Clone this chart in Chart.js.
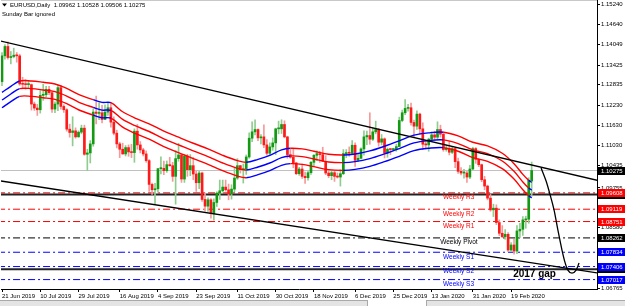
<!DOCTYPE html>
<html>
<head>
<meta charset="utf-8">
<script src="https://cdn.jsdelivr.net/npm/chart.js@4.4.1/dist/chart.umd.min.js"></script>
<style>
  html, body { margin: 0; padding: 0; background: #fff; }
  #wrap { position: relative; width: 625px; height: 300px; }
  #strip { position: relative; width: 625px; height: 6px; background: #e4e4e4; border-top: 1px solid #a9a9a9; box-sizing: border-box; }
  #tab { position: absolute; left: 367px; top: -1px; width: 58px; height: 6px; background: #fff; border-left: 1px solid #a9a9a9; border-right: 1px solid #a9a9a9; }
</style>
</head>
<body>
<div id="wrap"><canvas id="eurusd" width="625" height="300"></canvas></div>
<div id="strip"><div id="tab"></div></div>
<script>
// EURUSD daily, 21 Jun 2019 .. 28 Feb 2020 (bar index 0..180)
var opens = [
  1.1293,1.1370,1.1398,1.1365,1.1368,1.1372,1.1370,1.1286,1.1285,1.1284,
  1.1284,1.1226,1.1214,1.1209,1.1252,1.1254,1.1270,1.1260,1.1211,1.1226,
  1.1275,1.1219,1.1209,1.1151,1.1141,1.1146,1.1128,1.1142,1.1154,1.1076,
  1.1080,1.1107,1.1202,1.1198,1.1200,1.1180,1.1202,1.1215,1.1172,1.1139,
  1.1107,1.1091,1.1077,1.1096,1.1083,1.1081,1.1145,1.1104,1.1089,1.1077,
  1.1057,1.0986,1.0970,1.0973,1.1033,1.1034,1.1027,1.1045,1.1042,1.1010,
  1.1063,1.1074,1.1002,1.1071,1.1030,1.1042,1.1017,1.0991,1.1020,1.0941,
  1.0921,1.0940,1.0899,1.0932,1.0960,1.0967,1.0978,1.0970,1.0957,1.0972,
  1.1005,1.1042,1.1030,1.1033,1.1068,1.1124,1.1143,1.1150,1.1125,1.1128,
  1.1104,1.1079,1.1098,1.1110,1.1152,1.1152,1.1165,1.1128,1.1075,1.1067,
  1.1050,1.1018,1.1032,1.1010,1.1006,1.1021,1.1052,1.1073,1.1078,1.1075,
  1.1055,1.1020,1.1012,1.1021,1.1010,1.1008,1.1018,1.1078,1.1081,1.1079,
  1.1103,1.1058,1.1064,1.1092,1.1128,1.1132,1.1121,1.1143,1.1150,1.1112,
  1.1122,1.1080,1.1091,1.1090,1.1091,1.1099,1.1177,1.1200,1.1213,1.1215,
  1.1171,1.1160,1.1196,1.1152,1.1106,1.1104,1.1121,1.1134,1.1127,1.1150,
  1.1136,1.1090,1.1094,1.1082,1.1093,1.1054,1.1025,1.1020,1.1020,1.1008,
  1.1032,1.1093,1.1061,1.1045,1.1000,1.0981,1.0945,1.0910,1.0915,1.0872,
  1.0840,1.0830,1.0837,1.0790,1.0805,1.0787,1.0847,1.0852,1.0880,1.0882,
  1.09962
];
var highs = [
  1.1380,1.1404,1.1412,1.1383,1.1393,1.1380,1.1375,1.1306,1.1299,1.1295,
  1.1286,1.1232,1.1225,1.1266,1.1285,1.1279,1.1279,1.1264,1.1233,1.1283,
  1.1282,1.1224,1.1212,1.1166,1.1188,1.1155,1.1146,1.1163,1.1163,1.1091,
  1.1117,1.1212,1.1250,1.1230,1.1222,1.1224,1.1230,1.1229,1.1188,1.1148,
  1.1112,1.1109,1.1102,1.1104,1.1106,1.1152,1.1165,1.1114,1.1094,1.1086,
  1.1060,1.0990,1.0989,1.1034,1.1068,1.1056,1.1056,1.1067,1.1052,1.1087,
  1.1109,1.1076,1.1075,1.1076,1.1075,1.1067,1.1025,1.1025,1.1023,1.0960,
  1.0946,1.0944,1.0943,1.0964,1.0999,1.0999,1.0999,1.0987,1.0985,1.1034,
  1.1063,1.1043,1.1047,1.1074,1.1140,1.1173,1.1179,1.1152,1.1135,1.1164,
  1.1120,1.1110,1.1125,1.1154,1.1175,1.1179,1.1176,1.1130,1.1092,1.1093,
  1.1052,1.1037,1.1047,1.1023,1.1025,1.1055,1.1075,1.1086,1.1085,1.1097,
  1.1072,1.1029,1.1028,1.1027,1.1020,1.1030,1.1090,1.1090,1.1098,1.1117,
  1.1110,1.1077,1.1095,1.1146,1.1145,1.1200,1.1155,1.1175,1.1153,1.1135,
  1.1125,1.1095,1.1093,1.1094,1.1106,1.1187,1.1208,1.1239,1.1225,1.1229,
  1.1178,1.1206,1.1199,1.1170,1.1116,1.1124,1.1143,1.1145,1.1173,1.1163,
  1.1143,1.1103,1.1115,1.1098,1.1095,1.1065,1.1036,1.1031,1.1025,1.1043,
  1.1097,1.1096,1.1063,1.1047,1.1010,1.0984,1.0956,1.0927,1.0925,1.0880,
  1.0863,1.0851,1.0842,1.0812,1.0822,1.0863,1.0870,1.0890,1.0891,1.1006,
  1.10528
];
var lows = [
  1.1281,1.1360,1.1360,1.1346,1.1364,1.1351,1.1282,1.1275,1.1270,1.1272,
  1.1208,1.1207,1.1192,1.1199,1.1237,1.1247,1.1254,1.1201,1.1200,1.1206,
  1.1211,1.1201,1.1145,1.1127,1.1101,1.1124,1.1127,1.1137,1.1073,1.1027,
  1.1050,1.1100,1.1167,1.1179,1.1170,1.1180,1.1192,1.1157,1.1134,1.1095,
  1.1066,1.1076,1.1071,1.1070,1.1066,1.1052,1.1091,1.1080,1.1071,1.1052,
  1.0965,1.0956,1.0926,1.0963,1.1017,1.1015,1.1022,1.1040,1.0995,1.0927,
  1.1055,1.0992,1.0992,1.1010,1.1012,1.1000,1.0965,1.0973,1.0935,1.0906,
  1.0905,1.0885,1.0879,1.0920,1.0941,1.0963,1.0966,1.0940,1.0942,1.0964,
  1.1001,1.1020,1.0990,1.1016,1.1064,1.1114,1.1134,1.1117,1.1107,1.1096,
  1.1073,1.1072,1.1088,1.1075,1.1137,1.1138,1.1125,1.1064,1.1064,1.1036,
  1.1015,1.1013,1.1004,1.0989,1.0999,1.1016,1.1040,1.1058,1.1052,1.1055,
  1.1015,1.1006,1.1000,1.0995,1.1005,1.0981,1.1015,1.1066,1.1070,1.1075,
  1.1040,1.1055,1.1062,1.1073,1.1105,1.1106,1.1117,1.1137,1.1100,1.1104,
  1.1065,1.1067,1.1075,1.1086,1.1085,1.1099,1.1173,1.1194,1.1205,1.1163,
  1.1126,1.1150,1.1135,1.1090,1.1092,1.1085,1.1116,1.1118,1.1121,1.1127,
  1.1085,1.1085,1.1074,1.1078,1.1036,1.1019,1.1014,1.1005,1.0992,1.1003,
  1.1030,1.1049,1.1039,1.0994,1.0970,1.0940,1.0906,1.0890,1.0866,1.0833,
  1.0827,1.0822,1.0785,1.0786,1.0778,1.0779,1.0828,1.0834,1.0855,1.0870,
  1.09506
];
var closes = [
  1.1370,1.1398,1.1365,1.1368,1.1372,1.1370,1.1286,1.1285,1.1284,1.1284,
  1.1226,1.1214,1.1209,1.1252,1.1254,1.1270,1.1260,1.1211,1.1226,1.1275,
  1.1219,1.1209,1.1151,1.1141,1.1146,1.1128,1.1142,1.1154,1.1076,1.1080,
  1.1107,1.1202,1.1198,1.1200,1.1180,1.1202,1.1215,1.1172,1.1139,1.1107,
  1.1091,1.1077,1.1096,1.1083,1.1081,1.1145,1.1104,1.1089,1.1077,1.1057,
  1.0986,1.0970,1.0973,1.1033,1.1034,1.1027,1.1045,1.1042,1.1010,1.1063,
  1.1074,1.1002,1.1071,1.1030,1.1042,1.1017,1.0991,1.1020,1.0941,1.0921,
  1.0940,1.0899,1.0932,1.0960,1.0967,1.0978,1.0970,1.0957,1.0972,1.1005,
  1.1042,1.1030,1.1033,1.1068,1.1124,1.1143,1.1150,1.1125,1.1128,1.1104,
  1.1079,1.1098,1.1110,1.1152,1.1152,1.1165,1.1128,1.1075,1.1067,1.1050,
  1.1018,1.1032,1.1010,1.1006,1.1021,1.1052,1.1073,1.1078,1.1075,1.1055,
  1.1020,1.1012,1.1021,1.1010,1.1008,1.1018,1.1078,1.1081,1.1079,1.1103,
  1.1058,1.1064,1.1092,1.1128,1.1132,1.1121,1.1143,1.1150,1.1112,1.1122,
  1.1080,1.1091,1.1090,1.1091,1.1099,1.1177,1.1200,1.1213,1.1215,1.1171,
  1.1160,1.1196,1.1152,1.1106,1.1104,1.1121,1.1134,1.1127,1.1150,1.1136,
  1.1090,1.1094,1.1082,1.1093,1.1054,1.1025,1.1020,1.1020,1.1008,1.1032,
  1.1093,1.1061,1.1045,1.1000,1.0981,1.0945,1.0910,1.0915,1.0872,1.0840,
  1.0830,1.0837,1.0790,1.0805,1.0787,1.0847,1.0852,1.0880,1.0882,1.0998,
  1.10275
];

// date labels on the time axis (bar index -> text)
var tickIdx = [0, 13, 26, 40, 53, 66, 80, 93, 106, 120, 133, 146, 160, 173];
var tickLabels = ['21 Jun 2019', '10 Jul 2019', '29 Jul 2019', '16 Aug 2019', '4 Sep 2019', '23 Sep 2019',
  '11 Oct 2019', '30 Oct 2019', '18 Nov 2019', '6 Dec 2019', '25 Dec 2019', '13 Jan 2020', '31 Jan 2020', '19 Feb 2020'];

// price scale labels
var priceTicks = [1.15240, 1.14640, 1.14049, 1.13425, 1.12835, 1.12230, 1.11630, 1.11030, 1.10435, 1.09755, 1.08580, 1.06765];

// three band lines, read at these bars
var bandIdx = [0,3,6,10,14,18,22,26,31,34,37,41,45,50,55,60,65,70,75,80,83,87,91,95,98,102,106,111,116,120,125,130,135,140,145,150,155,160,165,170,174,177,179,180];
var bandUpper = [1.1261,1.1279,1.1295,1.1295,1.1291,1.1286,1.1273,1.1255,1.1239,1.1231,1.1230,1.1203,1.1185,1.1167,1.1145,1.1127,1.1109,1.1092,1.1073,1.1057,1.1052,1.1061,1.1073,1.1089,1.1094,1.1092,1.1085,1.1076,1.1074,1.1077,1.1086,1.1100,1.1116,1.1133,1.1140,1.1142,1.1131,1.1112,1.1101,1.1079,1.1048,1.1016,1.0998,1.0992];
var bandMid = [1.1238,1.1256,1.1272,1.1272,1.1268,1.1263,1.1250,1.1232,1.1216,1.1208,1.1207,1.1180,1.1162,1.1144,1.1122,1.1104,1.1086,1.1069,1.1050,1.1034,1.1029,1.1038,1.1050,1.1066,1.1071,1.1069,1.1062,1.1053,1.1051,1.1054,1.1063,1.1077,1.1093,1.1110,1.1117,1.1119,1.1108,1.1089,1.1078,1.1056,1.1025,1.0993,1.0975,1.0969];
var bandLower = [1.1215,1.1233,1.1249,1.1249,1.1245,1.1240,1.1227,1.1209,1.1193,1.1185,1.1184,1.1157,1.1139,1.1121,1.1099,1.1081,1.1063,1.1046,1.1027,1.1011,1.1006,1.1015,1.1027,1.1043,1.1048,1.1046,1.1039,1.1030,1.1028,1.1031,1.1040,1.1054,1.1070,1.1087,1.1094,1.1096,1.1085,1.1066,1.1055,1.1033,1.1002,1.0970,1.0952,1.0946];
// bar ranges where the bands are drawn blue
var blueSpans = [[0, 6], [31, 37], [83, 98], [116, 150], [179, 180]];

// weekly pivots
var levelNames = ['Weekly R3', 'Weekly R2', 'Weekly R1', 'Weekly Pivot', 'Weekly S1', 'Weekly S2', 'Weekly S3'];
var levelPrices = [1.09608, 1.09119, 1.08751, 1.08262, 1.07834, 1.07406, 1.07017];
var levelColors = ['#ff0000', '#ff0000', '#ff0000', '#000000', '#0000ff', '#0000ff', '#0000ff'];
var levelLabelX = [149.9, 149.9, 149.9, 148.9, 149.9, 149.9, 149.9];

// horizontal lines and last price
var hLines = [1.09555, 1.07328];
var lastPrice = 1.10275;
var gapLabelX = 173.7;

// channel lines (bar index, price)
var upperTrendX = [-0.4, 202.3];
var upperTrendY = [1.14143, 1.09983];
var lowerTrendX = [-0.4, 202.3];
var lowerTrendY = [1.09962, 1.07217];

// hand drawn path towards the gap
var pathX = [183.2, 184.9, 186.2, 187.6, 188.9, 190.3, 191.3, 192.3, 193.7, 195.1, 196.1];
var pathY = [1.1035, 1.0996, 1.0957, 1.0910, 1.0850, 1.0790, 1.0754, 1.0730, 1.0721, 1.0730, 1.0751];

var xMin = -0.34, xMax = 202.2;
var yMin = 1.06736, yMax = 1.15368;

var RED = '#ff0000', BLUE = '#0000ff';
var FONT = '"Liberation Sans", Arial, sans-serif';

function isBull(i) { return closes[i] >= opens[i]; }
function inBlue(a, b) {
    return blueSpans.some(function (s) { return a >= s[0] && b <= s[1]; });
}
function flatLine(v) { return [{ x: xMin - 1, y: v }, { x: xMax + 1, y: v }]; }

var datasets = [];

// hand drawn curve
datasets.push({
    type: 'line', order: 1,
    data: pathX.map(function (x, k) { return { x: x, y: pathY[k] }; }),
    borderColor: '#000', borderWidth: 1.3, pointRadius: 0, cubicInterpolationMode: 'monotone'
});
// channel
datasets.push({
    type: 'line', order: 2,
    data: upperTrendX.map(function (x, k) { return { x: x, y: upperTrendY[k] }; }),
    borderColor: '#000', borderWidth: 1.3, pointRadius: 0
});
datasets.push({
    type: 'line', order: 2,
    data: lowerTrendX.map(function (x, k) { return { x: x, y: lowerTrendY[k] }; }),
    borderColor: '#000', borderWidth: 1.3, pointRadius: 0
});
// bands
[bandUpper, bandMid, bandLower].forEach(function (arr) {
    datasets.push({
        type: 'line', order: 4,
        data: bandIdx.map(function (x, k) { return { x: x, y: arr[k] }; }),
        borderColor: RED, borderWidth: 1.4, pointRadius: 0, tension: 0.35,
        segment: {
            borderColor: function (ctx) { return inBlue(ctx.p0.parsed.x, ctx.p1.parsed.x) ? BLUE : RED; }
        }
    });
});
// candles
datasets.push({
    type: 'bar', order: 6, grouped: false,
    data: opens.map(function (o, i) { return { x: i, y: [o, closes[i]] }; }),
    backgroundColor: function (ctx) { return isBull(ctx.dataIndex) ? '#139a13' : '#ff1a1a'; },
    barThickness: 2, minBarLength: 1, borderWidth: 0
});
datasets.push({
    type: 'bar', order: 7, grouped: false,
    data: lows.map(function (l, i) { return { x: i, y: [l, highs[i]] }; }),
    backgroundColor: function (ctx) { return isBull(ctx.dataIndex) ? '#8fcd8f' : '#f59a9a'; },
    barThickness: 1, borderWidth: 0
});
// levels
levelPrices.forEach(function (v, k) {
    datasets.push({
        type: 'line', order: 9, data: flatLine(v),
        borderColor: levelColors[k], borderWidth: 1, borderDash: [7, 3, 2, 3], pointRadius: 0
    });
});
hLines.forEach(function (v) {
    datasets.push({
        type: 'line', order: 8, data: flatLine(v),
        borderColor: '#222', borderWidth: 2, pointRadius: 0
    });
});
datasets.push({
    type: 'line', order: 10, data: flatLine(lastPrice),
    borderColor: '#c0c0c0', borderWidth: 1, pointRadius: 0
});

var overlay = {
    id: 'overlay',
    afterDatasetsDraw: function (chart) {
        var ctx = chart.ctx, x = chart.scales.x, y = chart.scales.y;
        ctx.save();
        ctx.textBaseline = 'middle';
        ctx.textAlign = 'left';
        ctx.font = '6.5px ' + FONT;
        levelNames.forEach(function (name, k) {
            ctx.fillStyle = levelColors[k];
            ctx.fillText(name, x.getPixelForValue(levelLabelX[k]), y.getPixelForValue(levelPrices[k]) + 4.5);
        });
        ctx.font = 'bold 10px ' + FONT;
        ctx.fillStyle = '#000';
        ctx.fillText('2017 gap', x.getPixelForValue(gapLabelX), y.getPixelForValue(hLines[1]) + 5);
        ctx.restore();
    },
    afterDraw: function (chart) {
        var ctx = chart.ctx, y = chart.scales.y, area = chart.chartArea;
        ctx.save();
        // price boxes on the scale
        var boxVals = [lastPrice, hLines[0], levelPrices[0], levelPrices[1], levelPrices[2], levelPrices[3],
            levelPrices[4], hLines[1], levelPrices[5], levelPrices[6]];
        var boxCols = ['#000', '#000', RED, RED, RED, '#000', BLUE, '#000', BLUE, BLUE];
        ctx.font = '6px ' + FONT;
        ctx.textBaseline = 'middle';
        boxVals.forEach(function (v, k) {
            var py = Math.round(y.getPixelForValue(v));
            ctx.fillStyle = boxCols[k];
            ctx.fillRect(area.right + 1, py - 4, 625 - area.right - 1, 8);
            ctx.fillStyle = '#fff';
            ctx.fillText(v.toFixed(5), area.right + 4, py + 0.5);
        });
        // top border
        ctx.strokeStyle = '#c8c8c8';
        ctx.lineWidth = 1;
        ctx.beginPath();
        ctx.moveTo(area.left, 0.5);
        ctx.lineTo(area.right, 0.5);
        ctx.stroke();
        // header
        ctx.fillStyle = '#000';
        ctx.beginPath();
        ctx.moveTo(2, 3.5);
        ctx.lineTo(7, 3.5);
        ctx.lineTo(4.5, 6.5);
        ctx.fill();
        ctx.font = '6px ' + FONT;
        ctx.fillText('EURUSD,Daily  1.09962 1.10528 1.09506 1.10275', 10, 5.5);
        ctx.fillText('Sunday Bar ignored', 2, 14);
        ctx.restore();
    }
};

new Chart(document.getElementById('eurusd'), {
    type: 'bar',
    data: { datasets: datasets },
    options: {
        responsive: false,
        animation: false,
        layout: { padding: { left: 1, top: 0, right: 0, bottom: 0 } },
        plugins: { legend: { display: false }, tooltip: { enabled: false } },
        scales: {
            x: {
                type: 'linear', min: xMin, max: xMax, offset: false,
                afterBuildTicks: function (scale) {
                    scale.ticks = tickIdx.map(function (v) { return { value: v }; });
                },
                afterFit: function (scale) {
                    scale.height = 11;
                    scale.paddingLeft = 0;
                    scale.paddingRight = 0;
                },
                ticks: {
                    autoSkip: false, maxRotation: 0, align: 'start', padding: 1,
                    color: '#000', font: { size: 6, family: FONT },
                    callback: function (v) { return tickLabels[tickIdx.indexOf(v)]; }
                },
                grid: { drawOnChartArea: false, offset: false, tickLength: 3, color: '#000' },
                border: { display: true, color: '#000', width: 1 }
            },
            y: {
                type: 'linear', position: 'right', min: yMin, max: yMax, beginAtZero: false,
                afterBuildTicks: function (scale) {
                    scale.ticks = priceTicks.map(function (v) { return { value: v }; });
                },
                afterFit: function (scale) {
                    scale.width = 28;
                    scale.paddingTop = 0;
                    scale.paddingBottom = 0;
                },
                ticks: {
                    padding: 1, color: '#000', font: { size: 6, family: FONT },
                    callback: function (v) { return v.toFixed(5); }
                },
                grid: { drawOnChartArea: false, tickLength: 3, color: '#000' },
                border: { display: true, color: '#000', width: 1 }
            }
        }
    },
    plugins: [overlay]
});
</script>
</body>
</html>
